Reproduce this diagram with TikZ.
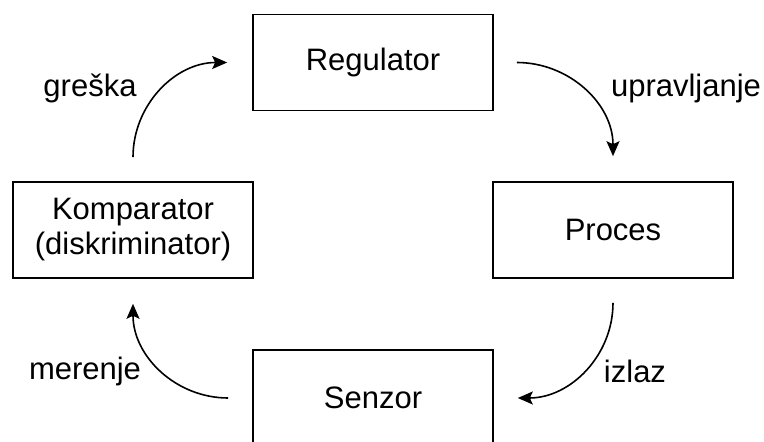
\documentclass[tikz,border=0pt]{standalone}
\usepackage{fontspec}
\setmainfont{Liberation Sans}
\usetikzlibrary{arrows.meta}
\tikzset{
  blok/.style={draw=black, line width=1.6pt, minimum width=240pt, minimum height=96pt, inner sep=0pt, align=center, font=\fontsize{31}{35}\selectfont},
  veza/.style={line width=1.6pt, -{Stealth[length=15pt,width=13pt,inset=3pt]}},
  oznaka/.style={anchor=base, inner sep=0pt, font=\fontsize{31}{35}\selectfont}
}
\begin{document}
\begin{tikzpicture}[x=1pt,y=1pt]
\useasboundingbox (0,0) rectangle (764,442);
\clip (0,0) rectangle (764,442);
\fill[white] (0,0) rectangle (764,442);
\node[blok] (reg) at (373,379.5) {Regulator};
\node[blok] (proc) at (613,212) {Proces};
\node[blok] (kom) at (133,212) {Komparator\\(diskriminator)};
\node[blok] (sen) at (373,44) {Senzor};
\draw[veza] ([yshift=24pt]kom.north) to[out=90,in=180] ([xshift=-25pt]reg.west);
\draw[veza] ([xshift=23pt]reg.east) to[out=0,in=90] ([yshift=25pt]proc.north);
\draw[veza] ([yshift=-24pt]proc.south) to[out=-90,in=0] ([xshift=24pt]sen.east);
\draw[veza] ([xshift=-24pt]sen.west) to[out=180,in=-90] ([yshift=-25pt]kom.south);
\node[oznaka] (l1) at (90,345) {greška};
\node[oznaka] (l2) at (686,345) {upravljanje};
\node[oznaka] (l3) at (85,62) {merenje};
\node[oznaka] (l4) at (635,59) {izlaz};
\end{tikzpicture}
\end{document}
